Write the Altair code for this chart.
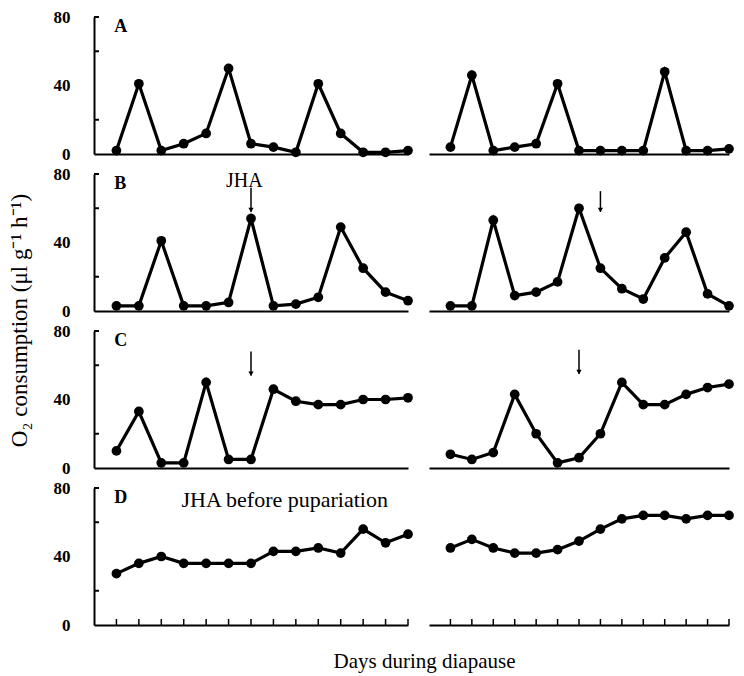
import altair as alt
import pandas as pd

# ---------------- data ----------------
days = list(range(14))

a_left = [2, 41, 2, 6, 12, 50, 6, 4, 1, 41, 12, 1, 1, 2]
a_right = [4, 46, 2, 4, 6, 41, 2, 2, 2, 2, 48, 2, 2, 3]
b_left = [3, 3, 41, 3, 3, 5, 54, 3, 4, 8, 49, 25, 11, 6]
b_right = [3, 3, 53, 9, 11, 17, 60, 25, 13, 7, 31, 46, 10, 3]
c_left = [10, 33, 3, 3, 50, 5, 5, 46, 39, 37, 37, 40, 40, 41]
c_right = [8, 5, 9, 43, 20, 3, 6, 20, 50, 37, 37, 43, 47, 49]
d_left = [30, 36, 40, 36, 36, 36, 36, 43, 43, 45, 42, 56, 48, 53]
d_right = [45, 50, 45, 42, 42, 44, 49, 56, 62, 64, 64, 62, 64, 64]

panel_letters = ["A", "B", "C", "D"]
y_label_values = [0, 40, 80]
y_inner_ticks = [20, 60, 80]
x_domain = [-1, 13]
y_domain = [0, 80]

# JHA application arrows: row, side, day, top value, bottom value
arrow_rows = ["B", "B", "C", "C"]
arrow_sides = ["left", "right", "left", "right"]
arrow_days = [6, 7, 6, 6]
arrow_tops = [72, 70, 68, 69]
arrow_bottoms = [58, 58, 54, 55]

y_title = "O\u2082 consumption (\u03bcl g\u207b\u00b9 h\u207b\u00b9)"
x_title = "Days during diapause"

FONT = "Liberation Serif"
H = 137
W_LEFT = 314
W_RIGHT = 300


def panel(vals, side, row):
    left = side == "left"
    df = pd.DataFrame({"day": days, "o2": vals})

    if left and row == "D":
        x_axis = alt.Axis(labels=False, ticks=False, grid=False, domain=True,
                          title=x_title, titleX=330, titleY=36,
                          titleAlign="center", titleBaseline="middle",
                          titleFont=FONT, titleFontSize=21,
                          titleFontWeight="normal", titleColor="black")
    else:
        x_axis = alt.Axis(labels=False, ticks=False, grid=False, domain=True, title=None)

    if left:
        if row == "B":
            y_axis = alt.Axis(values=y_label_values, ticks=False, tickSize=0,
                              labelPadding=24, grid=False, domain=True,
                              title=y_title, titleX=-75, titleY=146,
                              titleAngle=270, titleAlign="center",
                              titleBaseline="middle", titleFont=FONT,
                              titleFontSize=23, titleFontWeight="normal",
                              titleColor="black")
        else:
            y_axis = alt.Axis(values=y_label_values, ticks=False, tickSize=0,
                              labelPadding=24, grid=False, domain=True, title=None)
    else:
        y_axis = None

    xenc = alt.X("day:Q", scale=alt.Scale(domain=x_domain, nice=False, zero=False), axis=x_axis)
    yenc = alt.Y("o2:Q", scale=alt.Scale(domain=y_domain, nice=False, zero=False), axis=y_axis)

    base = alt.Chart(df).encode(x=xenc, y=yenc)
    layers = [
        base.mark_line(color="black", strokeWidth=3.2),
        base.mark_circle(color="black", size=95, opacity=1),
    ]

    if left:
        tdf = pd.DataFrame({"o2": y_inner_ticks})
        layers.append(
            alt.Chart(tdf).mark_rule(color="black", strokeWidth=2).encode(
                y=yenc, x=alt.value(0), x2=alt.value(5))
        )
        ldf = pd.DataFrame({"day": [-0.1], "o2": [74], "label": [row]})
        layers.append(
            alt.Chart(ldf).mark_text(font=FONT, fontSize=18, fontWeight="bold",
                                     align="left", baseline="middle", color="black")
            .encode(x=xenc, y=yenc, text="label:N")
        )
        if row == "B":
            jdf = pd.DataFrame({"day": [5.7], "o2": [76], "label": ["JHA"]})
            layers.append(
                alt.Chart(jdf).mark_text(font=FONT, fontSize=20, align="center",
                                         baseline="middle", color="black")
                .encode(x=xenc, y=yenc, text="label:N")
            )
        if row == "D":
            jdf = pd.DataFrame({"day": [2.9], "o2": [73], "label": ["JHA before pupariation"]})
            layers.append(
                alt.Chart(jdf).mark_text(font=FONT, fontSize=22, align="left",
                                         baseline="middle", color="black")
                .encode(x=xenc, y=yenc, text="label:N")
            )

    if row == "D":
        xdf = pd.DataFrame({"day": days})
        layers.append(
            alt.Chart(xdf).mark_rule(color="black", strokeWidth=1.5).encode(
                x=xenc, y=alt.value(H), y2=alt.value(H - 6))
        )

    for r, s, d, t, b in zip(arrow_rows, arrow_sides, arrow_days, arrow_tops, arrow_bottoms):
        if r == row and s == side:
            adf = pd.DataFrame({"day": [d], "o2": [t], "o2b": [b]})
            layers.append(
                alt.Chart(adf).mark_rule(color="black", strokeWidth=1.5).encode(
                    x=xenc, y=yenc, y2="o2b:Q")
            )
            hdf = pd.DataFrame({"day": [d], "o2": [b + 1]})
            layers.append(
                alt.Chart(hdf).mark_point(shape="triangle-down", filled=True, size=28,
                                          color="black", opacity=1)
                .encode(x=xenc, y=yenc)
            )

    return alt.layer(*layers).properties(width=W_LEFT if left else W_RIGHT, height=H)


series = {
    "A": (a_left, a_right),
    "B": (b_left, b_right),
    "C": (c_left, c_right),
    "D": (d_left, d_right),
}

panels = []
for row in panel_letters:
    lv, rv = series[row]
    panels.append(panel(lv, "left", row))
    panels.append(panel(rv, "right", row))

chart = (
    alt.concat(*panels, columns=2, spacing={"row": 20, "column": 21}, bounds="flush")
    .properties(padding={"top": 0, "left": 0, "right": 0, "bottom": 10})
    .configure_view(stroke=None)
    .configure_axis(domainColor="black", domainWidth=2, labelFont=FONT,
                    labelFontSize=17, labelFontWeight="bold", labelColor="black")
)

chart.save("out.html", embed_options={"renderer": "svg", "actions": False})
